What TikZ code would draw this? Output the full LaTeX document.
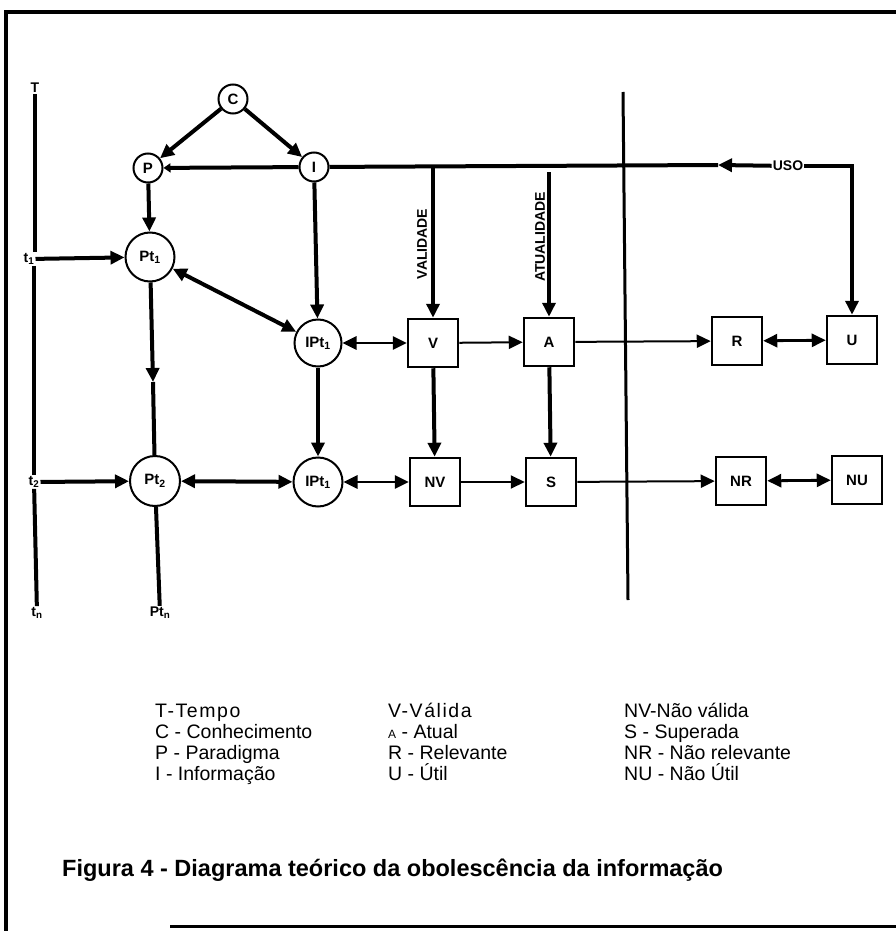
\documentclass[tikz,border=0pt]{standalone}
\usepackage{fontspec}
\setmainfont{Liberation Sans}
\usetikzlibrary{arrows.meta}
\begin{document}
\begin{tikzpicture}[x=1pt,y=-1pt,
  circ/.style={circle,draw,line width=2pt,inner sep=0pt,font=\fontsize{15}{15}\selectfont\bfseries},
  sq/.style={rectangle,draw,line width=2.5pt,minimum width=50pt,minimum height=48pt,inner sep=0pt,font=\fontsize{15}{15}\selectfont\bfseries},
  lbl/.style={inner sep=1pt,font=\fontsize{14}{14}\selectfont\bfseries},
  thk/.style={line width=4pt},
  med/.style={line width=2.8pt},
  thn/.style={line width=2pt},
  tip/.style={-{Triangle[length=14pt,width=13pt]}},
  tips/.style={{Triangle[length=14pt,width=13pt]}-{Triangle[length=14pt,width=13pt]}},
  leg/.style={anchor=base west,inner sep=0pt,font=\fontsize{19.5}{19.5}\selectfont},
  frameline/.style={line width=4pt}
]
\fill[white] (0,0) rectangle (896,931);
\useasboundingbox (0,0) rectangle (896,931);

% frame
\draw[frameline] (896,12) -- (6,12) -- (6,931);
\draw[line width=3pt] (170,926) -- (896,926);

% circles
\node[circ,minimum size=29pt] (C) at (233,99) {C};
\node[circ,minimum size=29pt] (P) at (148,168) {P};
\node[circ,minimum size=29pt] (I) at (314,167) {I};
\node[circ,minimum size=49pt] (Pt1) at (150,257) {Pt\textsubscript{1}};
\node[circ,minimum size=47pt] (IPa) at (318,343) {IPt\textsubscript{1}};
\node[circ,minimum size=50pt] (Pt2) at (155,481) {Pt\textsubscript{2}};
\node[circ,minimum size=49pt] (IPb) at (318,482) {IPt\textsubscript{1}};

% boxes
\node[sq] (V) at (433,343) {V};
\node[sq] (A) at (549,342) {A};
\node[sq] (R) at (737,341) {R};
\node[sq] (U) at (852,340) {U};
\node[sq] (NV) at (435,482) {NV};
\node[sq] (S) at (551,482) {S};
\node[sq] (NR) at (741,481) {NR};
\node[sq] (NU) at (857,480) {NU};

% labels
\node[lbl] (T) at (35,88) {T};
\node[lbl] (t1) at (29,259) {t\textsubscript{1}};
\node[lbl] (t2) at (34,482) {t\textsubscript{2}};
\node[lbl] (tn) at (37,613) {t\textsubscript{n}};
\node[lbl] (Ptn) at (160,613) {Pt\textsubscript{n}};
\node[lbl] (uso) at (788,166) {USO};
\node[lbl,rotate=90] (val) at (422,244) {VALIDADE};
\node[lbl,rotate=90] (atu) at (540,237) {ATUALIDADE};

% time axis
\draw[thk] (T) -- (T |- t1.north);
\draw[thk] (t2 |- t1.south) -- (t2.north);
\draw[thk] (t2) -- (tn);
\draw[thk,tip] (t1) -- (Pt1);
\draw[thk,tip] (t2) -- (Pt2);

% C, P, I
\draw[thk,tip] (C) -- (P);
\draw[thk,tip] (C) -- (I);
\draw[thk,-{Triangle[length=7pt,width=9pt]}] (I) -- (P);
\draw[thk,tip] (P) -- (Pt1);
\draw[thk,tips] (Pt1) -- (IPa);
\draw[thk,tip] (I) -- (IPa);

% Pt column
\coordinate (m1) at (153,382);
\draw[thk,tip] (Pt1) -- (m1);
\draw[thk] (m1) -- (Pt2);
\draw[thk] (Pt2) -- (Ptn);

\draw[thk,tip] (IPa) -- (IPb);
\draw[thk,tips] (Pt2) -- (IPb);
\draw[med,tips] (IPa) -- (V);
\draw[med,tips] (IPb) -- (NV);
\draw[thn,tip] (V) -- (A);
\draw[thn,tip] (NV) -- (S);
\draw[thn,tip] (A) -- (R);
\draw[thn,tip] (S) -- (NR);
\draw[med,tips] (R) -- (U);
\draw[med,tips] (NR) -- (NU);
\draw[thk,tip] (V) -- (NV);
\draw[thk,tip] (A) -- (S);

% top line
\coordinate (ua) at (718,165);
\coordinate (aj) at (550,172);
\draw[thk,tip] (uso) -- (ua);
\draw[thk] (ua) -- (I);
\draw[thk,tip] (uso) -- (U.north |- uso) -- (U.north);
\draw[thk,tip] (V.north |- ua) -- (V.north);
\draw[thk,tip] (A.north |- aj) -- (A.north);

% divider
\coordinate (d1) at (623,92);
\coordinate (d2) at (628,600);
\draw[line width=3pt] (d1) -- (d2);

% legend
\node[leg] (l1) at (155,717) {\addfontfeature{LetterSpace=8}T-Tempo};
\node[leg] (l2) at (155,738) {C - Conhecimento};
\node[leg] (l3) at (155,759) {P - Paradigma};
\node[leg] (l4) at (155,780) {I - Informação};
\node[leg] (l5) at (388,717) {\addfontfeature{LetterSpace=8}V-Válida};
\node[leg] (l6) at (388,738) {{\fontsize{12}{12}\selectfont A} - Atual};
\node[leg] (l7) at (388,759) {R - Relevante};
\node[leg] (l8) at (388,780) {U - Útil};
\node[leg] (l9) at (624,717) {NV-Não válida};
\node[leg] (l10) at (624,738) {S - Superada};
\node[leg] (l11) at (624,759) {NR - Não relevante};
\node[leg] (l12) at (624,780) {NU - Não Útil};

% caption
\node[anchor=base west,inner sep=0pt,font=\fontsize{23.5}{23.5}\selectfont\bfseries] (cap) at (62,876) {Figura 4 - Diagrama teórico da obolescência da informação};
\end{tikzpicture}
\end{document}
